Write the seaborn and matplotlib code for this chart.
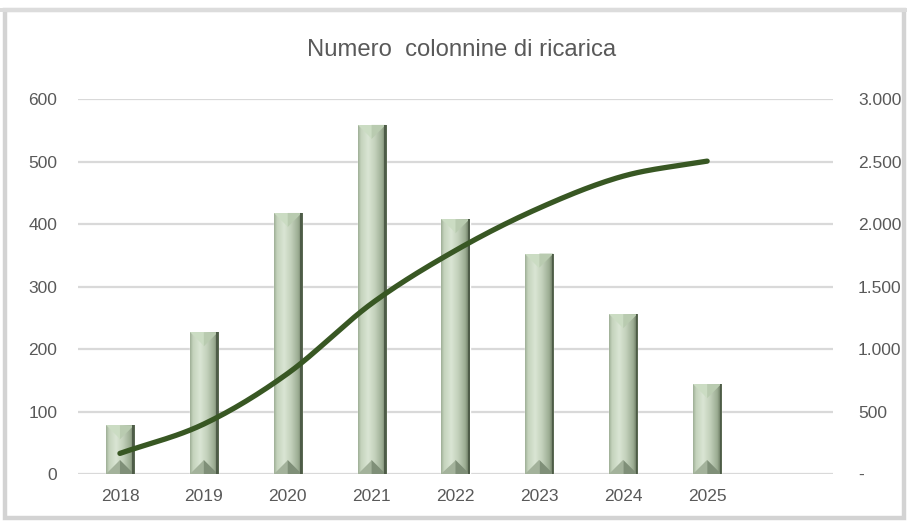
import numpy as np
import pandas as pd
import matplotlib
matplotlib.use("Agg")
import matplotlib.pyplot as plt
from matplotlib.patches import Polygon, Rectangle
from matplotlib.ticker import FixedLocator, FuncFormatter
import seaborn as sns

# Data
years = ["2018", "2019", "2020", "2021", "2022", "2023", "2024", "2025"]
nuove_colonnine = [78, 227, 418, 559, 408, 353, 256, 144]
totale_colonnine = [165, 400, 805, 1365, 1790, 2130, 2385, 2505]
left_ticks = [0, 100, 200, 300, 400, 500, 600]
right_ticks = [0, 500, 1000, 1500, 2000, 2500, 3000]

sns.set_theme(style="white")
plt.rcParams["font.family"] = ["Liberation Sans", "DejaVu Sans"]

TEXT = "#595959"
GRID = "#d9d9d9"
LINE = "#385723"

W, H = 907, 523
fig = plt.figure(figsize=(W / 100, H / 100), dpi=100)
fig.patch.set_facecolor("white")

# outer chart frame
fig.patches.append(Rectangle((5 / W, 5 / H), 899 / W, 508 / H, transform=fig.transFigure,
                             fill=False, edgecolor="#d3d3d3", linewidth=3.2))
fig.patches.append(Rectangle((0, (H - 12) / H), 1, 4 / H, transform=fig.transFigure,
                             facecolor="#dcdcdc", edgecolor="none"))

ax = fig.add_axes([78 / W, (H - 474) / H, (833 - 78) / W, (474 - 99.3) / H])
df = pd.DataFrame({"anno": years, "nuove": nuove_colonnine})
sns.barplot(data=df, x="anno", y="nuove", order=years, color="#c4d4bc",
            width=0.335, ax=ax, saturation=1, zorder=2)

ax.set_xlim(-0.5, 8.5)
ax.set_ylim(0, 600)
ax.yaxis.set_major_locator(FixedLocator(left_ticks))
ax.grid(axis="y", color=GRID, linewidth=1.6, zorder=0)
ax.set_axisbelow(True)
for s in ax.spines.values():
    s.set_visible(False)
ax.set_xlabel("")
ax.set_ylabel("")
ax.tick_params(axis="y", length=0, pad=15, labelsize=12.5, labelcolor=TEXT)
ax.tick_params(axis="x", length=0, pad=11, labelsize=12.5, labelcolor=TEXT)

# bevelled shading on each bar
stops = [0.0, 0.10, 0.35, 0.60, 0.85, 1.0]
cols = ["#9fb097", "#c4d3bc", "#dae5d4", "#c2d0ba", "#9aab91", "#56654f"]
rgb = np.array([matplotlib.colors.to_rgb(c) for c in cols])
xs_g = np.linspace(0, 1, 64)
grad = np.stack([np.interp(xs_g, stops, rgb[:, k]) for k in range(3)], axis=-1)[None, :, :]

fig.canvas.draw()
px_per_y = ax.transData.transform((0, 100))[1] - ax.transData.transform((0, 0))[1]
for p in ax.patches:
    x0, w, h = p.get_x(), p.get_width(), p.get_height()
    x1, xc = x0 + w, x0 + w / 2
    wpx = ax.transData.transform((x1, 0))[0] - ax.transData.transform((x0, 0))[0]
    d = (wpx / 2) / px_per_y * 100
    im = ax.imshow(grad, extent=[x0, x1, 0, h], aspect="auto", zorder=3,
                   interpolation="bilinear")
    im.set_clip_path(p)
    ax.add_patch(Polygon([(x0, h), (xc, h), (xc, h - d)], closed=True,
                         facecolor="#cbdcc3", edgecolor="none", zorder=4))
    ax.add_patch(Polygon([(xc, h), (x1, h), (xc, h - d)], closed=True,
                         facecolor="#b9cbb0", edgecolor="none", zorder=4))
    ax.add_patch(Polygon([(x0, 0), (xc, 0), (xc, d)], closed=True,
                         facecolor="#a3b29b", edgecolor="none", zorder=4))
    ax.add_patch(Polygon([(xc, 0), (x1, 0), (xc, d)], closed=True,
                         facecolor="#7f8f78", edgecolor="none", zorder=4))
    ax.add_patch(Rectangle((x1 - w * 0.06, 0), w * 0.06, h, facecolor="#4e5c48",
                           edgecolor="none", zorder=4))

ax.set_xlim(-0.5, 8.5)
ax.set_ylim(0, 600)

# cumulative total on secondary axis, smoothed curve through the yearly values
ax2 = ax.twinx()
ax2.set_ylim(0, 3000)
ax2.yaxis.set_major_locator(FixedLocator(right_ticks))
ax2.yaxis.set_major_formatter(FuncFormatter(
    lambda v, _: "-" if v == 0 else f"{int(v):,}".replace(",", ".")))
ax2.tick_params(axis="y", length=0, pad=18, labelsize=12.5, labelcolor=TEXT)
ax2.grid(False)
for s in ax2.spines.values():
    s.set_visible(False)

px = np.arange(len(years), dtype=float)
py = np.array(totale_colonnine, dtype=float)
pts = np.column_stack([px, py])
ext = np.vstack([2 * pts[0] - pts[1], pts, 2 * pts[-1] - pts[-2]])
t = np.linspace(0, 1, 25)[:, None]
curve = []
for i in range(1, len(ext) - 2):
    p0, p1, p2, p3 = ext[i - 1], ext[i], ext[i + 1], ext[i + 2]
    c1 = p1 + (p2 - p0) / 6
    c2 = p2 - (p3 - p1) / 6
    seg = ((1 - t) ** 3) * p1 + 3 * ((1 - t) ** 2) * t * c1 + 3 * (1 - t) * t ** 2 * c2 + t ** 3 * p2
    curve.append(seg if i == 1 else seg[1:])
curve = np.vstack(curve)
ax2.plot(curve[:, 0], curve[:, 1], color=LINE, linewidth=3.8, solid_capstyle="round")
ax2.set_xlim(-0.5, 8.5)

fig.text(462 / W, 1 - 50 / H, "Numero  colonnine di ricarica", ha="center", va="center",
         fontsize=17.2, color=TEXT)

fig.savefig("out.png", dpi=100, facecolor="white")
